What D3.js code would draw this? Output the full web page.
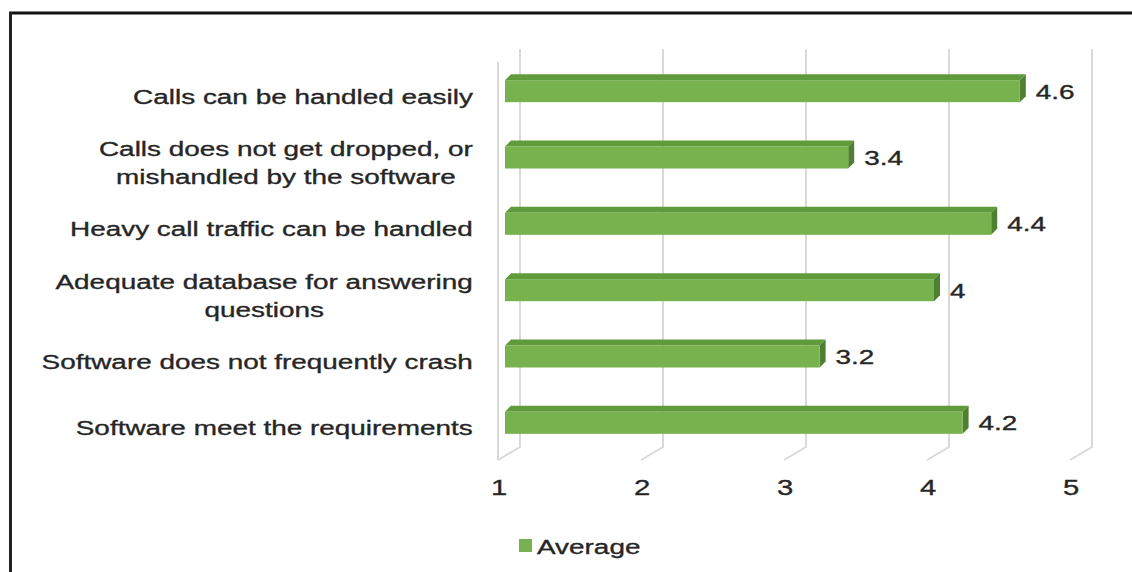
<!DOCTYPE html>
<html lang="en">
	<head>
		<meta charset="utf-8">
		<title>Average rating</title>
		<script type="text/javascript" src="https://d3js.org/d3.v7.min.js"></script>
		<style>
			body { margin:0; background:#fff; }
			text { font-family:"Liberation Sans", Arial, sans-serif; fill:#262626; stroke:#262626; stroke-width:0.35px; }
		</style>
	</head>
	<body>
		<svg id="chart"></svg>
		<script>
			var categories = ["Calls can be handled easily",
							  "Calls does not get dropped, or\nmishandled by the software",
							  "Heavy call traffic can be handled",
							  "Adequate database for answering\nquestions",
							  "Software does not frequently crash",
							  "Software meet the requirements"];
			var values = [4.6, 3.4, 4.4, 4, 3.2, 4.2];
			var ticks = [1, 2, 3, 4, 5];
			var seriesName = "Average";

			var width = 1132;
			var height = 572;
			var sx = 1.33;          // the picture's text is stretched sideways
			var depth = {dx:22, dy:-13};   // floor depth of the 3-D box
			var barFront = {dx:7, dy:-5};  // bar sits in the middle of the depth
			var barDepth = {dx:6, dy:-6};
			var barH = 22;

			var svg = d3.select("#chart").attr("width", width).attr("height", height);

			// frame lines of the picture
			svg.append("line").attr("x1",9).attr("x2",width).attr("y1",13).attr("y2",13)
				.attr("stroke","#111").attr("stroke-width",3);
			svg.append("line").attr("x1",10.5).attr("x2",10.5).attr("y1",12).attr("y2",height)
				.attr("stroke","#222").attr("stroke-width",3);

			var xScale = d3.scaleLinear().domain([1,5]).range([498,1070]);
			var yScale = d3.scaleBand().domain(d3.range(categories.length)).range([63,461]);
			var plotTop = 62, plotBottom = 460;

			// back wall gridlines + floor diagonals
			var grid = svg.append("g").attr("fill","none").attr("stroke","#d9d9d9").attr("stroke-width",2);
			grid.selectAll("path.g").data(ticks).enter().append("path")
				.attr("d", t => "M" + (xScale(t)+depth.dx) + "," + (plotTop+depth.dy)
					+ "V" + (plotBottom+depth.dy) + "L" + xScale(t) + "," + plotBottom);
			grid.append("path")
				.attr("d", "M" + xScale(1) + "," + plotTop + "V" + plotBottom);

			// bars (front, top, side faces)
			var bars = svg.selectAll("g.bar").data(values).enter().append("g").attr("class","bar");
			function box(d,i) {
				var x0 = xScale(1)+barFront.dx, x1 = xScale(d)+barFront.dx;
				var yc = yScale(i)+yScale.bandwidth()/2+barFront.dy;
				return {x0:x0, x1:x1, y0:yc-barH/2, y1:yc+barH/2};
			}
			bars.append("path").attr("fill","#5f9a3b")
				.attr("d",(d,i)=>{var b=box(d,i);
					return "M"+b.x0+","+b.y0+"L"+(b.x0+barDepth.dx)+","+(b.y0+barDepth.dy)
						+"L"+(b.x1+barDepth.dx)+","+(b.y0+barDepth.dy)+"L"+b.x1+","+b.y0+"Z";});
			bars.append("path").attr("fill","#4f7f30")
				.attr("d",(d,i)=>{var b=box(d,i);
					return "M"+b.x1+","+b.y0+"L"+(b.x1+barDepth.dx)+","+(b.y0+barDepth.dy)
						+"L"+(b.x1+barDepth.dx)+","+(b.y1+barDepth.dy)+"L"+b.x1+","+b.y1+"Z";});
			bars.append("rect").attr("fill","#77b24e")
				.attr("x",(d,i)=>box(d,i).x0).attr("y",(d,i)=>box(d,i).y0)
				.attr("width",(d,i)=>box(d,i).x1-box(d,i).x0).attr("height",barH);

			// value labels
			svg.selectAll("text.val").data(values).enter().append("text").attr("class","val")
				.attr("transform",(d,i)=>"translate("+(xScale(d)+23)+","+(yScale(i)+yScale.bandwidth()/2+barFront.dy)+") scale("+sx+",1)")
				.attr("dy","0.36em").attr("font-size","21px").text(d=>String(d));

			// category labels: block right-aligned, lines centered on each other
			var labelRight = 473, lineGap = 28;
			var cats = svg.selectAll("g.cat").data(categories).enter().append("g").attr("class","cat");
			cats.each(function(c,i){
				var lines = c.split("\n");
				var g = d3.select(this);
				var yc = yScale(i)+yScale.bandwidth()/2;
				var ts = g.selectAll("text").data(lines).enter().append("text")
					.attr("font-size","21px").attr("dy","0.36em").attr("text-anchor","middle").text(l=>l);
				var w = d3.max(ts.nodes(), n=>n.getComputedTextLength())*sx;
				ts.attr("transform",(l,j)=>"translate("+(labelRight-w/2)+","+(yc+(j-(lines.length-1)/2)*lineGap)+") scale("+sx+",1)");
			});

			// x tick labels
			svg.selectAll("text.tick").data(ticks).enter().append("text").attr("class","tick")
				.attr("transform",t=>"translate("+(xScale(t)+1)+",487) scale("+sx+",1)")
				.attr("text-anchor","middle").attr("dy","0.36em").attr("font-size","22px").text(t=>t);

			// legend
			svg.append("rect").attr("x",519).attr("y",539).attr("width",13).attr("height",13).attr("fill","#77b24e");
			svg.append("text").attr("transform","translate(537,546) scale("+sx+",1)")
				.attr("dy","0.36em").attr("font-size","21px").text(seriesName);
		</script>
	</body>
</html>
